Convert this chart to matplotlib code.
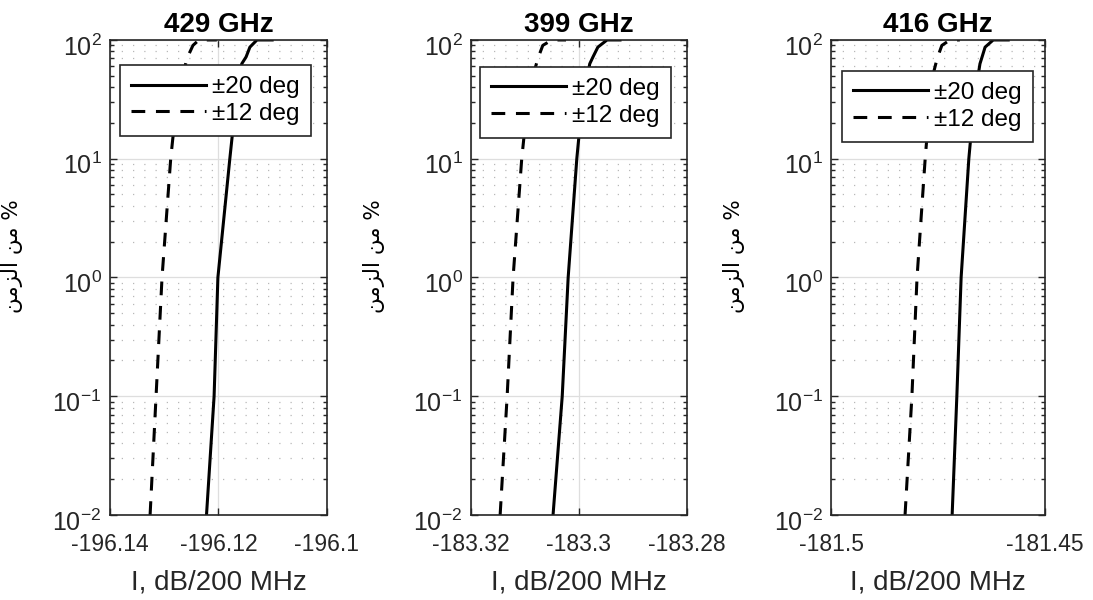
import numpy as np
import matplotlib
matplotlib.use("Agg")
from matplotlib import pyplot as plt
from matplotlib import ticker, transforms

plt.rcParams['font.family'] = ['Liberation Sans', 'DejaVu Sans']
plt.rcParams['mathtext.default'] = 'regular'
plt.rcParams['axes.unicode_minus'] = False

# data (percent of time vs level)
titles = ["429 GHz", "399 GHz", "416 GHz"]
xlims = [(-196.14, -196.10), (-183.32, -183.28), (-181.50, -181.45)]
xticks = [[-196.14, -196.12, -196.10], [-183.32, -183.30, -183.28], [-181.50, -181.45]]

pct_20 = [0.01, 0.1, 1, 10, 30, 63, 72, 87, 100, 100]
pct_12 = [0.01, 0.1, 1, 10, 15, 40, 70, 90, 100, 100]

lvl_20_429 = [-196.1222, -196.1208, -196.1201, -196.1179, -196.1168, -196.1157, -196.1149, -196.1142, -196.1129, -196.1101]
lvl_12_429 = [-196.1326, -196.1315, -196.1304, -196.1288, -196.1284, -196.1271, -196.1258, -196.1247, -196.1236, -196.1203]

lvl_20_399 = [-183.3048, -183.3031, -183.3020, -183.3004, -183.2994, -183.2980, -183.2974, -183.2965, -183.2948, -183.2924]
lvl_12_399 = [-183.3146, -183.3133, -183.3122, -183.3106, -183.3102, -183.3091, -183.3076, -183.3067, -183.3050, -183.3024]

lvl_20_416 = [-181.4717, -181.4706, -181.4696, -181.4678, -181.4666, -181.4652, -181.4647, -181.4640, -181.4621, -181.4586]
lvl_12_416 = [-181.4827, -181.4811, -181.4799, -181.4780, -181.4776, -181.4769, -181.4752, -181.4741, -181.4722, -181.4699]

solid = [lvl_20_429, lvl_20_399, lvl_20_416]
dashed = [lvl_12_429, lvl_12_399, lvl_12_416]
labels = ["\u00b120 deg", "\u00b112 deg"]

# axes boxes in figure fraction
boxes = [[0.1006, 0.1417, 0.1985, 0.7917],
         [0.4309, 0.1417, 0.1976, 0.7917],
         [0.7603, 0.1417, 0.1958, 0.7917]]
leg_pos = [(0.046, 0.947), (0.042, 0.943), (0.051, 0.935)]

# "% من الزمن" written in visual order with shaped forms
ylab = "\ufee6\ufee3\ufeb0\ufedf\ufe8d \ufee6\ufee3 %"

fig = plt.figure(figsize=(10.93, 6), dpi=100)
tc = '#262626'
axes = []

for i in range(3):
    ax = fig.add_axes(boxes[i])
    axes.append(ax)
    ax.plot(solid[i], pct_20, color='black', lw=2.2, label=labels[0])
    ax.plot(dashed[i], pct_12, color='black', lw=2.2, ls=(0, (4.5, 3.5)), label=labels[1])
    ax.set_yscale('log')
    ax.set_ylim(1e-2, 1e2)
    ax.set_xlim(*xlims[i])
    ax.xaxis.set_major_locator(ticker.FixedLocator(xticks[i]))
    ax.xaxis.set_major_formatter(ticker.FuncFormatter(lambda v, p: '%g' % round(v, 4)))
    ax.yaxis.set_major_locator(ticker.LogLocator(base=10, numticks=10))
    ax.yaxis.set_minor_locator(ticker.LogLocator(base=10, subs=np.arange(2, 10), numticks=10))
    ax.yaxis.set_minor_formatter(ticker.NullFormatter())
    ax.grid(True, which='major', color='#dedede', lw=0.9, ls='-')
    ax.grid(True, which='minor', axis='y', color='#b8b8b8', lw=0.9, ls=(0, (1, 8)))
    ax.set_axisbelow(True)
    ax.tick_params(which='both', direction='in', top=True, right=True, colors=tc, width=1)
    ax.tick_params(axis='x', labelsize=16.5, pad=13)
    ax.tick_params(axis='y', labelsize=18, pad=6)
    ax.tick_params(which='major', length=5)
    ax.tick_params(which='minor', length=3)
    for s in ax.spines.values():
        s.set_color(tc)
        s.set_linewidth(1.2)
    ax.set_title(titles[i], fontsize=20, fontweight='bold', pad=6)
    ax.set_xlabel('I, dB/200 MHz', fontsize=20, color=tc, labelpad=10)
    ax.set_ylabel(ylab, fontsize=15.5, family=['DejaVu Sans'], color='black')
    ax.yaxis.set_label_coords(-0.40, 0.545)
    leg = ax.legend(loc='upper left', bbox_to_anchor=leg_pos[i], fontsize=17.5,
                    fancybox=False, framealpha=1, edgecolor=tc, handlelength=3.1,
                    handletextpad=0.25, borderpad=0.45, labelspacing=0.2,
                    borderaxespad=0)
    leg.get_frame().set_linewidth(1.2)

# nudge y tick labels slightly down like the original
fig.canvas.draw()
shift = transforms.ScaledTranslation(0, -5 / 100, fig.dpi_scale_trans)
for ax in axes:
    for lab in ax.get_yticklabels():
        lab.set_transform(lab.get_transform() + shift)

fig.savefig('out.png', dpi=100)
